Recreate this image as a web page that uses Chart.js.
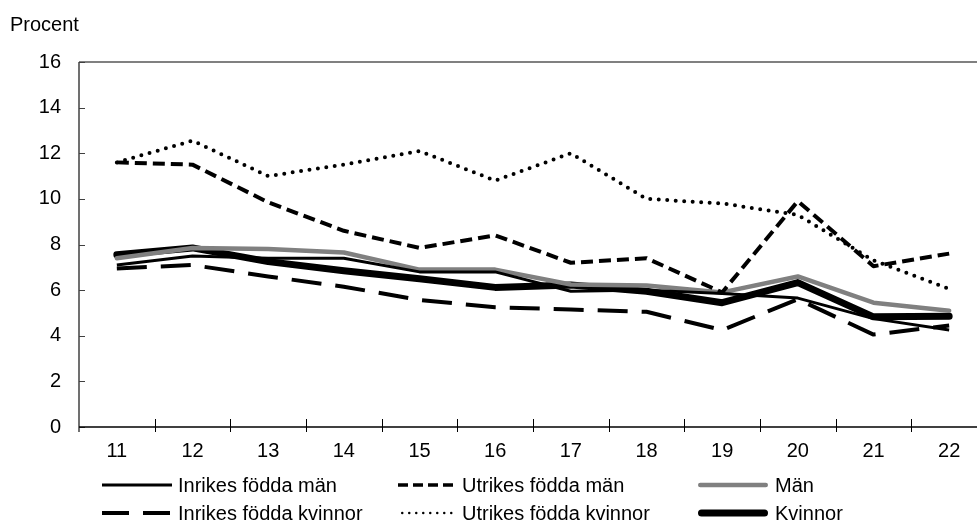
<!DOCTYPE html>
<html><head><meta charset="utf-8">
<script src="https://cdn.jsdelivr.net/npm/chart.js@4/dist/chart.umd.min.js"></script>
<style>
html,body{margin:0;padding:0;background:#fff;overflow:hidden}
#wrap{position:relative;width:977px;height:525px;overflow:hidden;font-family:Arial,"Liberation Sans",sans-serif;background:#fff}
#cv{position:absolute;left:0;top:0}
.lab{position:absolute;font-size:20px;color:#000;white-space:nowrap;line-height:22px}
svg{position:absolute;overflow:visible}
</style></head><body>
<div id="wrap">
<canvas id="cv" width="987" height="525"></canvas>
<div class="lab" style="left:10px;top:13px">Procent</div>
<div id="legend"></div>
</div>
<script>
const years = ["11","12","13","14","15","16","17","18","19","20","21","22"];
const yTicks = [0,2,4,6,8,10,12,14,16];
const inrikesMan     = [7.1, 7.5, 7.4, 7.4, 6.8, 6.8, 5.95, 6.0, 5.85, 5.65, 4.75, 4.25];
const utrikesMan     = [11.6, 11.5, 9.85, 8.6, 7.85, 8.4, 7.2, 7.4, 5.9, 9.9, 7.05, 7.6];
const man            = [7.4, 7.85, 7.8, 7.65, 6.9, 6.9, 6.25, 6.2, 5.9, 6.6, 5.45, 5.1];
const inrikesKvinnor = [6.95, 7.1, 6.6, 6.15, 5.57, 5.25, 5.15, 5.05, 4.25, 5.6, 4.05, 4.45];
const utrikesKvinnor = [11.6, 12.55, 11.0, 11.5, 12.1, 10.8, 12.0, 10.0, 9.8, 9.3, 7.3, 6.05];
const kvinnor        = [7.55, 7.85, 7.25, 6.85, 6.5, 6.12, 6.22, 5.95, 5.45, 6.33, 4.83, 4.85];

const series = [
  {label:"Inrikes födda män", data:inrikesMan, color:"#000", width:3, dash:[], cap:"butt", lx:102, llen:70, tx:178, row:0, ldash:"", lw:3},
  {label:"Utrikes födda män", data:utrikesMan, color:"#000", width:4, dash:[12,6], cap:"butt", lx:398, llen:59, tx:462, row:0, ldash:"10 5", lw:3.5},
  {label:"Män", data:man, color:"#808080", width:4.5, dash:[], cap:"round", lx:698, llen:70, tx:775, row:0, ldash:"", lw:4.5},
  {label:"Inrikes födda kvinnor", data:inrikesKvinnor, color:"#000", width:4, dash:[30,14], cap:"butt", lx:102, llen:70, tx:178, row:1, ldash:"27 14", lw:4},
  {label:"Utrikes födda kvinnor", data:utrikesKvinnor, color:"#000", width:4, dash:[0,8.5], cap:"round", lx:401, llen:56, tx:462, row:1, ldash:"0 7", lw:2.5},
  {label:"Kvinnor", data:kvinnor, color:"#000", width:7, dash:[], cap:"round", lx:698, llen:70, tx:775, row:1, ldash:"", lw:7}
];

const axesPlugin = {
  id:"axesPlugin",
  beforeDatasetsDraw(chart){
    const {ctx, chartArea:a, scales:{x,y}} = chart;
    ctx.save();
    // top border
    ctx.strokeStyle="#808080"; ctx.lineWidth=2;
    ctx.beginPath(); ctx.moveTo(a.left, a.top); ctx.lineTo(a.right, a.top); ctx.stroke();
    // y axis
    ctx.strokeStyle="#404040"; ctx.lineWidth=1.5;
    ctx.beginPath(); ctx.moveTo(a.left, a.top); ctx.lineTo(a.left, a.bottom+5); ctx.stroke();
    // y ticks inside
    ctx.lineWidth=1;
    yTicks.forEach(v=>{
      const py=Math.round(y.getPixelForValue(v))+0.5;
      ctx.beginPath(); ctx.moveTo(a.left, py); ctx.lineTo(a.left+6, py); ctx.stroke();
    });
    // x axis
    ctx.strokeStyle="#000"; ctx.lineWidth=1.5;
    ctx.beginPath(); ctx.moveTo(a.left, a.bottom); ctx.lineTo(a.right, a.bottom); ctx.stroke();
    const step = x.getPixelForValue(1)-x.getPixelForValue(0);
    ctx.lineWidth=1;
    for(let i=1;i<=years.length;i++){
      const px=Math.round(x.getPixelForValue(i-1)+step/2)+0.5;
      ctx.beginPath(); ctx.moveTo(px, a.bottom-8); ctx.lineTo(px, a.bottom+5); ctx.stroke();
    }
    ctx.restore();
  }
};

new Chart(document.getElementById("cv"), {
  type:"line",
  data:{
    labels:years,
    datasets:series.map(s=>({
      label:s.label, data:s.data, borderColor:s.color, backgroundColor:s.color,
      borderWidth:s.width, borderDash:s.dash, borderCapStyle:s.cap, borderJoinStyle:"round",
      pointRadius:0, tension:0, fill:false
    }))
  },
  options:{
    responsive:false, animation:false, devicePixelRatio:1,
    layout:{padding:{top:62,left:0,right:0,bottom:0}},
    plugins:{legend:{display:false}, tooltip:{enabled:false}},
    scales:{
      x:{
        offset:true,
        grid:{display:false, drawTicks:false},
        border:{display:false},
        ticks:{color:"#000", font:{family:"Arial, 'Liberation Sans', sans-serif", size:20}, padding:12, maxRotation:0, autoSkip:false},
        afterFit(s){ s.height = 98; }
      },
      y:{
        min:0, max:16,
        afterBuildTicks(s){ s.ticks = yTicks.map(v=>({value:v})); },
        grid:{display:false, drawTicks:false},
        border:{display:false},
        ticks:{color:"#000", font:{family:"Arial, 'Liberation Sans', sans-serif", size:20}, padding:18},
        afterFit(s){ s.width = 79; }
      }
    }
  },
  plugins:[axesPlugin]
});

// HTML legend
const leg = document.getElementById("legend");
const rowsY = [485, 513];
series.forEach(s=>{
  const cy = rowsY[s.row];
  const svg = document.createElementNS("http://www.w3.org/2000/svg","svg");
  svg.setAttribute("width", s.llen+10); svg.setAttribute("height", 12);
  svg.style.left = (s.lx-5)+"px"; svg.style.top = (cy-6)+"px";
  const ln = document.createElementNS("http://www.w3.org/2000/svg","line");
  ln.setAttribute("x1", 5 + (s.cap==="round"? s.lw/2:0)); ln.setAttribute("x2", 5+s.llen - (s.cap==="round"? s.lw/2:0));
  ln.setAttribute("y1", 6); ln.setAttribute("y2", 6);
  ln.setAttribute("stroke", s.color); ln.setAttribute("stroke-width", s.lw);
  ln.setAttribute("stroke-linecap", s.cap);
  if(s.ldash) ln.setAttribute("stroke-dasharray", s.ldash);
  svg.appendChild(ln); leg.appendChild(svg);
  const t = document.createElement("div");
  t.className="lab"; t.textContent=s.label;
  t.style.left = s.tx+"px"; t.style.top = (cy-11)+"px";
  leg.appendChild(t);
});
</script>
</body></html>
